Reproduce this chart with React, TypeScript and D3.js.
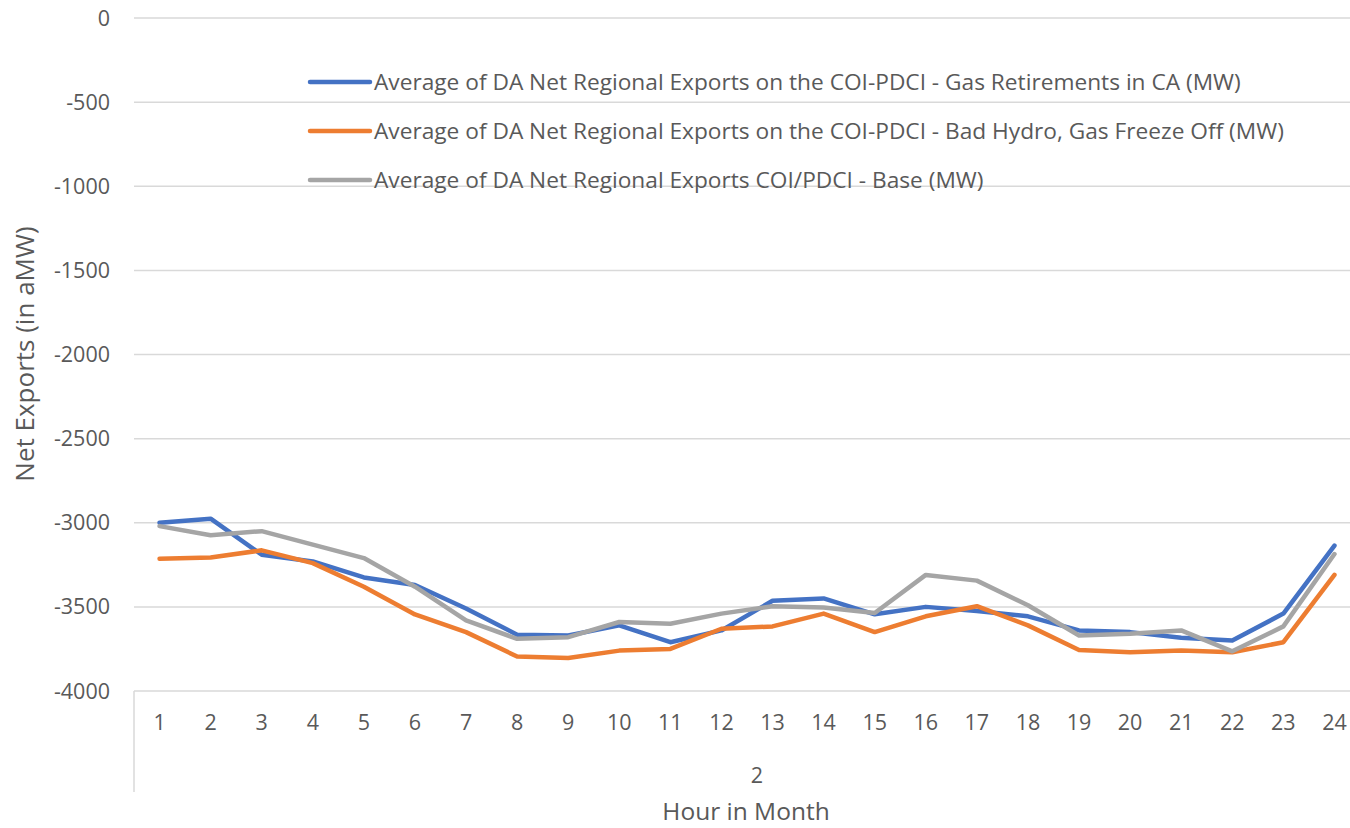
import React from "react";
import * as d3 from "d3";

const hours = ["1","2","3","4","5","6","7","8","9","10","11","12","13","14","15","16","17","18","19","20","21","22","23","24"];
const gasRetirements = [-3000,-2976,-3190,-3230,-3325,-3370,-3510,-3665,-3670,-3610,-3710,-3640,-3464,-3450,-3544,-3500,-3524,-3556,-3640,-3650,-3684,-3700,-3540,-3136];
const badHydro = [-3214,-3206,-3164,-3240,-3380,-3545,-3650,-3795,-3804,-3760,-3750,-3630,-3616,-3540,-3650,-3556,-3496,-3610,-3756,-3770,-3760,-3770,-3710,-3310];
const base = [-3020,-3074,-3050,-3130,-3210,-3380,-3580,-3690,-3680,-3590,-3600,-3540,-3496,-3504,-3536,-3310,-3344,-3490,-3670,-3660,-3640,-3764,-3616,-3186];
const yTicks = [0,-500,-1000,-1500,-2000,-2500,-3000,-3500,-4000];
const seriesNames = [
  "Average of DA Net Regional Exports on the COI-PDCI - Gas Retirements in CA (MW)",
  "Average of DA Net Regional Exports on the COI-PDCI - Bad Hydro, Gas Freeze Off (MW)",
  "Average of DA Net Regional Exports COI/PDCI - Base (MW)",
];
const colors = ["#4472C4", "#ED7D31", "#A5A5A5"];

export default function App() {
  const W = 1350, H = 828;
  const left = 134, right = 1360, top = 18, bottom = 691;
  const x = d3.scaleBand<string>().domain(hours).range([left, right]);
  const y = d3.scaleLinear().domain([-4000, 0]).range([bottom, top]);
  const line = d3.line<number>()
    .x((_, i) => (x(hours[i]) as number) + x.bandwidth() / 2)
    .y((d) => y(d));
  const data = [gasRetirements, badHydro, base];
  const font = "'Open Sans', sans-serif";
  const txt = "#595959";
  return (
    <svg width={W} height={H} style={{ position: "absolute", left: 0, top: 0, background: "#fff" }}>
      {yTicks.map((t) => (
        <g key={t}>
          <line x1={left} x2={W} y1={y(t)} y2={y(t)} stroke="#d9d9d9" strokeWidth={1.5} />
          <text x={110} y={y(t)} dy="0.35em" textAnchor="end" fontFamily={font} fontSize={21.5} fill={txt}>{t}</text>
        </g>
      ))}
      <line x1={left} x2={left} y1={bottom} y2={792} stroke="#d9d9d9" strokeWidth={1.5} />
      {hours.map((h) => (
        <text key={h} x={(x(h) as number) + x.bandwidth() / 2} y={722} dy="0.35em" textAnchor="middle" fontFamily={font} fontSize={21.5} fill={txt}>{h}</text>
      ))}
      <text x={757} y={775} dy="0.35em" textAnchor="middle" fontFamily={font} fontSize={21.5} fill={txt}>2</text>
      <text x={746} y={811} dy="0.35em" textAnchor="middle" fontFamily={font} fontSize={24.5} fill={txt}>Hour in Month</text>
      <text transform={`translate(25,${354}) rotate(-90)`} textAnchor="middle" dy="0.35em" fontFamily={font} fontSize={26} fill={txt}>Net Exports (in aMW)</text>
      {data.map((d, i) => (
        <path key={i} d={line(d) as string} fill="none" stroke={colors[i]} strokeWidth={4.5} strokeLinejoin="round" strokeLinecap="round" />
      ))}
      {seriesNames.map((n, i) => (
        <g key={n}>
          <line x1={310} x2={370} y1={82 + i * 49} y2={82 + i * 49} stroke={colors[i]} strokeWidth={4.5} strokeLinecap="round" />
          <text x={374} y={82 + i * 49} dy="0.35em" fontFamily={font} fontSize={22.7} fill={txt}>{n}</text>
        </g>
      ))}
    </svg>
  );
}
